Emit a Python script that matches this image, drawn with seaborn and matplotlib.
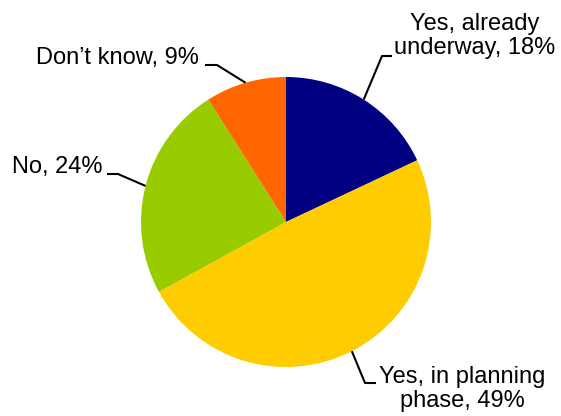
import numpy as np
import matplotlib
matplotlib.use("Agg")
import matplotlib.pyplot as plt
import seaborn as sns

# Data
labels = ["Yes, already\nunderway, 18%", "Yes, in planning\nphase, 49%", "No, 24%", "Don\u2019t know, 9%"]
values = [18, 49, 24, 9]
colors = ["#000080", "#FFCC00", "#99CC00", "#FF6600"]

sns.set_theme(style="white")
plt.rcParams["font.family"] = ["Liberation Sans", "DejaVu Sans"]

W, H = 561, 416
fig = plt.figure(figsize=(W / 100, H / 100), dpi=100)
ax = fig.add_axes([0, 0, 1, 1])

cx, cy, R = 286, H - 222, 145
wedges, _ = ax.pie(values, colors=colors, startangle=90, counterclock=False,
                   center=(cx, cy), radius=R, frame=True,
                   wedgeprops=dict(linewidth=0))
ax.set_xlim(0, W)
ax.set_ylim(0, H)
ax.set_aspect("equal")
ax.axis("off")

# layout: (elbow point, line end, text pos, ha) in pixel coords (y from top)
layout = [
    ((382, 56), (392, 56), (394, 36), "left"),
    ((365, 383), (376, 383), (379, 389), "left"),
    ((118, 174), (107, 174), (103, 167), "right"),
    ((217, 65), (205, 65), (199, 58), "right"),
]

for w, lab, (elb, end, tpos, ha) in zip(wedges, labels, layout):
    mid = np.deg2rad((w.theta1 + w.theta2) / 2)
    ax_x = cx + R * np.cos(mid)
    ax_y = cy + R * np.sin(mid)
    xs = [ax_x, elb[0], end[0]]
    ys = [ax_y, H - elb[1], H - end[1]]
    ax.plot(xs, ys, color="black", lw=1.5, solid_capstyle="butt", zorder=3)
    ax.text(tpos[0], H - tpos[1], lab, ha=ha, va="center", multialignment="center",
            fontsize=17, color="black", linespacing=1.15)

fig.savefig("out.png", dpi=100)
